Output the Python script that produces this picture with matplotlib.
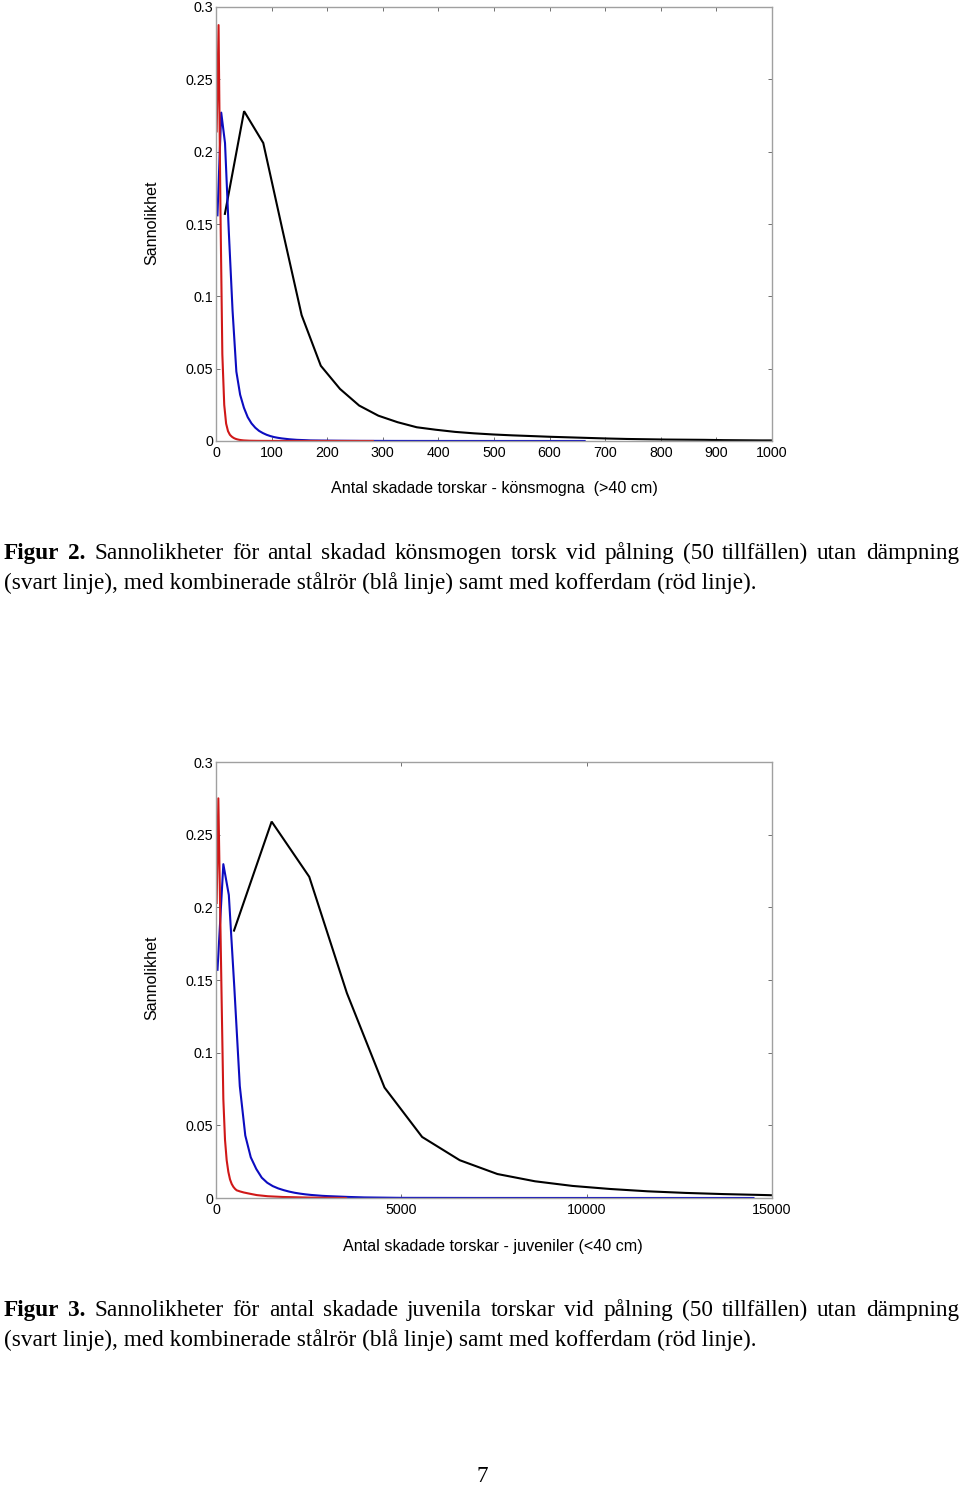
import matplotlib
matplotlib.use('Agg')
import matplotlib.pyplot as plt

# ---------------- data ----------------
# Figure 2 (könsmogna, >40 cm)
f2_black_x = [16, 50.5, 85, 119.5, 154, 188.5, 223, 257.5, 292, 326.5, 361, 395, 430, 464, 499,
              533, 568, 602, 637, 671, 706, 740, 775, 809, 844, 878, 913, 947, 982, 1000]
f2_black_y = [0.157, 0.228, 0.206, 0.146, 0.087, 0.052, 0.036, 0.0245, 0.0175, 0.013, 0.0095,
              0.0078, 0.0063, 0.0053, 0.0045, 0.0039, 0.0034, 0.0029, 0.0025, 0.0021, 0.0017,
              0.0014, 0.0012, 0.001, 0.0009, 0.0008, 0.0006, 0.0005, 0.0004, 0.0004]
f2_blue_x = [2.6, 9.4, 16.2, 23, 29.8, 36.6, 43.4, 50.2, 57, 63.8, 70.6, 77.4, 84.2, 91, 97.8,
             104.6, 111.4, 118.2, 125, 131.8, 138.6, 145.4, 152.2, 159, 170, 190, 220, 260, 320,
             400, 500, 663]
f2_blue_y = [0.156, 0.227, 0.206, 0.145, 0.09, 0.048, 0.032, 0.023, 0.0165, 0.0122, 0.0092,
             0.007, 0.0055, 0.0043, 0.0034, 0.0027, 0.0022, 0.0018, 0.0015, 0.0012, 0.001,
             0.0008, 0.0007, 0.0006, 0.0004, 0.0003, 0.0002, 0.0001, 0.00005, 0.00002, 0.00001, 0.0]
f2_red_x = [1.2, 4.6, 8, 11.4, 14.8, 18.2, 21.6, 25, 28.4, 31.8, 35.2, 38.6, 42, 45.4, 50, 60,
            75, 100, 150, 200, 282]
f2_red_y = [0.214, 0.2875, 0.16, 0.06, 0.025, 0.012, 0.0068, 0.0043, 0.003, 0.0021, 0.0015,
            0.0011, 0.0008, 0.0006, 0.0004, 0.0002, 0.0001, 0.00005, 0.00002, 0.00001, 0.0]

# Figure 3 (juveniler, <40 cm)
f3_black_x = [486, 1501, 2516, 3531, 4546, 5561, 6576, 7591, 8606, 9621, 10636, 11651, 12666,
              13681, 14696, 15000]
f3_black_y = [0.184, 0.259, 0.221, 0.141, 0.076, 0.042, 0.026, 0.0165, 0.0115, 0.0083, 0.0062,
              0.0046, 0.0035, 0.0027, 0.0021, 0.0019]
f3_blue_x = [40, 198, 346, 494, 642, 790, 938, 1086, 1234, 1382, 1530, 1678, 1826, 1974, 2122,
             2270, 2418, 2566, 2714, 2862, 3010, 3300, 3600, 4000, 5000, 7000, 10000, 14500]
f3_blue_y = [0.157, 0.2297, 0.2085, 0.145, 0.077, 0.043, 0.028, 0.020, 0.0140, 0.0105, 0.0082,
             0.0066, 0.0054, 0.0044, 0.0036, 0.003, 0.0025, 0.0021, 0.0018, 0.0015, 0.0013,
             0.001, 0.0007, 0.0004, 0.0001, 0.00003, 0.00001, 0.0]
f3_red_x = [18, 63, 108, 153, 198, 243, 288, 333, 378, 423, 468, 513, 558, 650, 750, 900, 1100,
            1400, 1800, 2500, 3500]
f3_red_y = [0.203, 0.275, 0.205, 0.135, 0.068, 0.040, 0.026, 0.018, 0.0128, 0.0097, 0.0077,
            0.0063, 0.0053, 0.0045, 0.0038, 0.003, 0.002, 0.0012, 0.0007, 0.0003, 0.0]

yticks = [0, 0.05, 0.1, 0.15, 0.2, 0.25, 0.3]
ytick_labels = ['0', '0.05', '0.1', '0.15', '0.2', '0.25', '0.3']
f2_xticks = [0, 100, 200, 300, 400, 500, 600, 700, 800, 900, 1000]
f3_xticks = [0, 5000, 10000, 15000]

f2_xlabel = 'Antal skadade torskar - könsmogna  (>40 cm)'
f3_xlabel = 'Antal skadade torskar - juveniler (<40 cm)'
ylabel = 'Sannolikhet'

cap2_bold = ['Figur', '2.']
cap2_line1 = 'Sannolikheter för antal skadad könsmogen torsk vid pålning (50 tillfällen) utan dämpning'
cap3_bold = ['Figur', '3.']
cap3_line1 = 'Sannolikheter för antal skadade juvenila torskar vid pålning (50 tillfällen) utan dämpning'
cap_line2 = '(svart linje), med kombinerade stålrör (blå linje) samt med kofferdam (röd linje).'
page_no = '7'

# ---------------- figure ----------------
W, H = 960, 1487
fig = plt.figure(figsize=(W / 100, H / 100), dpi=100)
fig.patch.set_facecolor('white')
renderer = fig.canvas.get_renderer()

def fx(px):
    return px / W

def fy(py):
    return 1 - py / H

SANS = 'Liberation Sans'
SERIF = 'Liberation Serif'
BLACK = '#000000'
BLUE = '#0c0cc0'
RED = '#d01818'
SPINE = '#a0a0a0'


def make_axes(left, top, right, bottom):
    return fig.add_axes([fx(left), fy(bottom), fx(right) - fx(left), (bottom - top) / H])


def style(ax, xticks, xmax):
    ax.set_xlim(0, xmax)
    ax.set_ylim(0, 0.3)
    ax.set_xticks(xticks)
    ax.set_xticklabels([str(t) for t in xticks], fontfamily=SANS, fontsize=10.3)
    ax.set_yticks(yticks)
    ax.set_yticklabels(ytick_labels, fontfamily=SANS, fontsize=10.3)
    for s in ax.spines.values():
        s.set_color(SPINE)
        s.set_linewidth(1.0)
    ax.tick_params(axis='both', direction='in', length=3, width=0.7, color='#707070',
                   top=True, right=True, labelcolor='black')
    ax.tick_params(axis='y', pad=2)
    ax.tick_params(axis='x', pad=3.5)


def draw(ax, bx, by, ux, uy, rx, ry):
    ax.plot(bx, by, color=BLACK, lw=1.5, solid_joinstyle='miter')
    ax.plot(ux, uy, color=BLUE, lw=1.5)
    ax.plot(rx, ry, color=RED, lw=1.5)


ax1 = make_axes(216, 7, 772, 441)
draw(ax1, f2_black_x, f2_black_y, f2_blue_x, f2_blue_y, f2_red_x, f2_red_y)
style(ax1, f2_xticks, 1000)

ax2 = make_axes(216, 762, 772, 1198)
draw(ax2, f3_black_x, f3_black_y, f3_blue_x, f3_blue_y, f3_red_x, f3_red_y)
style(ax2, f3_xticks, 15000)

# axis labels
fig.text(fx(494), fy(489), f2_xlabel, ha='center', va='center', fontfamily=SANS, fontsize=11.6)
fig.text(fx(152), fy(223), ylabel, ha='center', va='center', rotation=90, fontfamily=SANS, fontsize=11.6)
fig.text(fx(493), fy(1246), f3_xlabel, ha='center', va='center', fontfamily=SANS, fontsize=11.6)
fig.text(fx(152), fy(978), ylabel, ha='center', va='center', rotation=90, fontfamily=SANS, fontsize=11.6)


# ---------------- captions ----------------
def measure(s, **kw):
    t = fig.text(0, 0, s, **kw)
    w = t.get_window_extent(renderer).width
    t.remove()
    return w

# choose caption size so that the unjustified line spans ~750 px
base = measure(cap_line2, fontfamily=SERIF, fontsize=10)
CAP_FS = 10 * 752 / base


def justified(bold_words, text, x0, x1, base_y):
    words = [(w, 'bold') for w in bold_words] + [(w, 'normal') for w in text.split()]
    widths = [measure(w, fontfamily=SERIF, fontsize=CAP_FS, fontweight=wt) for w, wt in words]
    gap = (x1 - x0 - sum(widths)) / (len(words) - 1)
    x = x0
    for (w, wt), wd in zip(words, widths):
        fig.text(fx(x), fy(base_y), w, ha='left', va='baseline', fontfamily=SERIF,
                 fontsize=CAP_FS, fontweight=wt)
        x += wd + gap


def plain(text, x0, base_y):
    fig.text(fx(x0), fy(base_y), text, ha='left', va='baseline', fontfamily=SERIF, fontsize=CAP_FS)


justified(cap2_bold, cap2_line1, 4, 959, 559)
plain(cap_line2, 4, 589)
justified(cap3_bold, cap3_line1, 4, 959, 1316)
plain(cap_line2, 4, 1346)

fig.text(fx(482), fy(1476), page_no, ha='center', va='center', fontfamily=SERIF, fontsize=CAP_FS)

fig.savefig('out.png', dpi=100, facecolor='white')
